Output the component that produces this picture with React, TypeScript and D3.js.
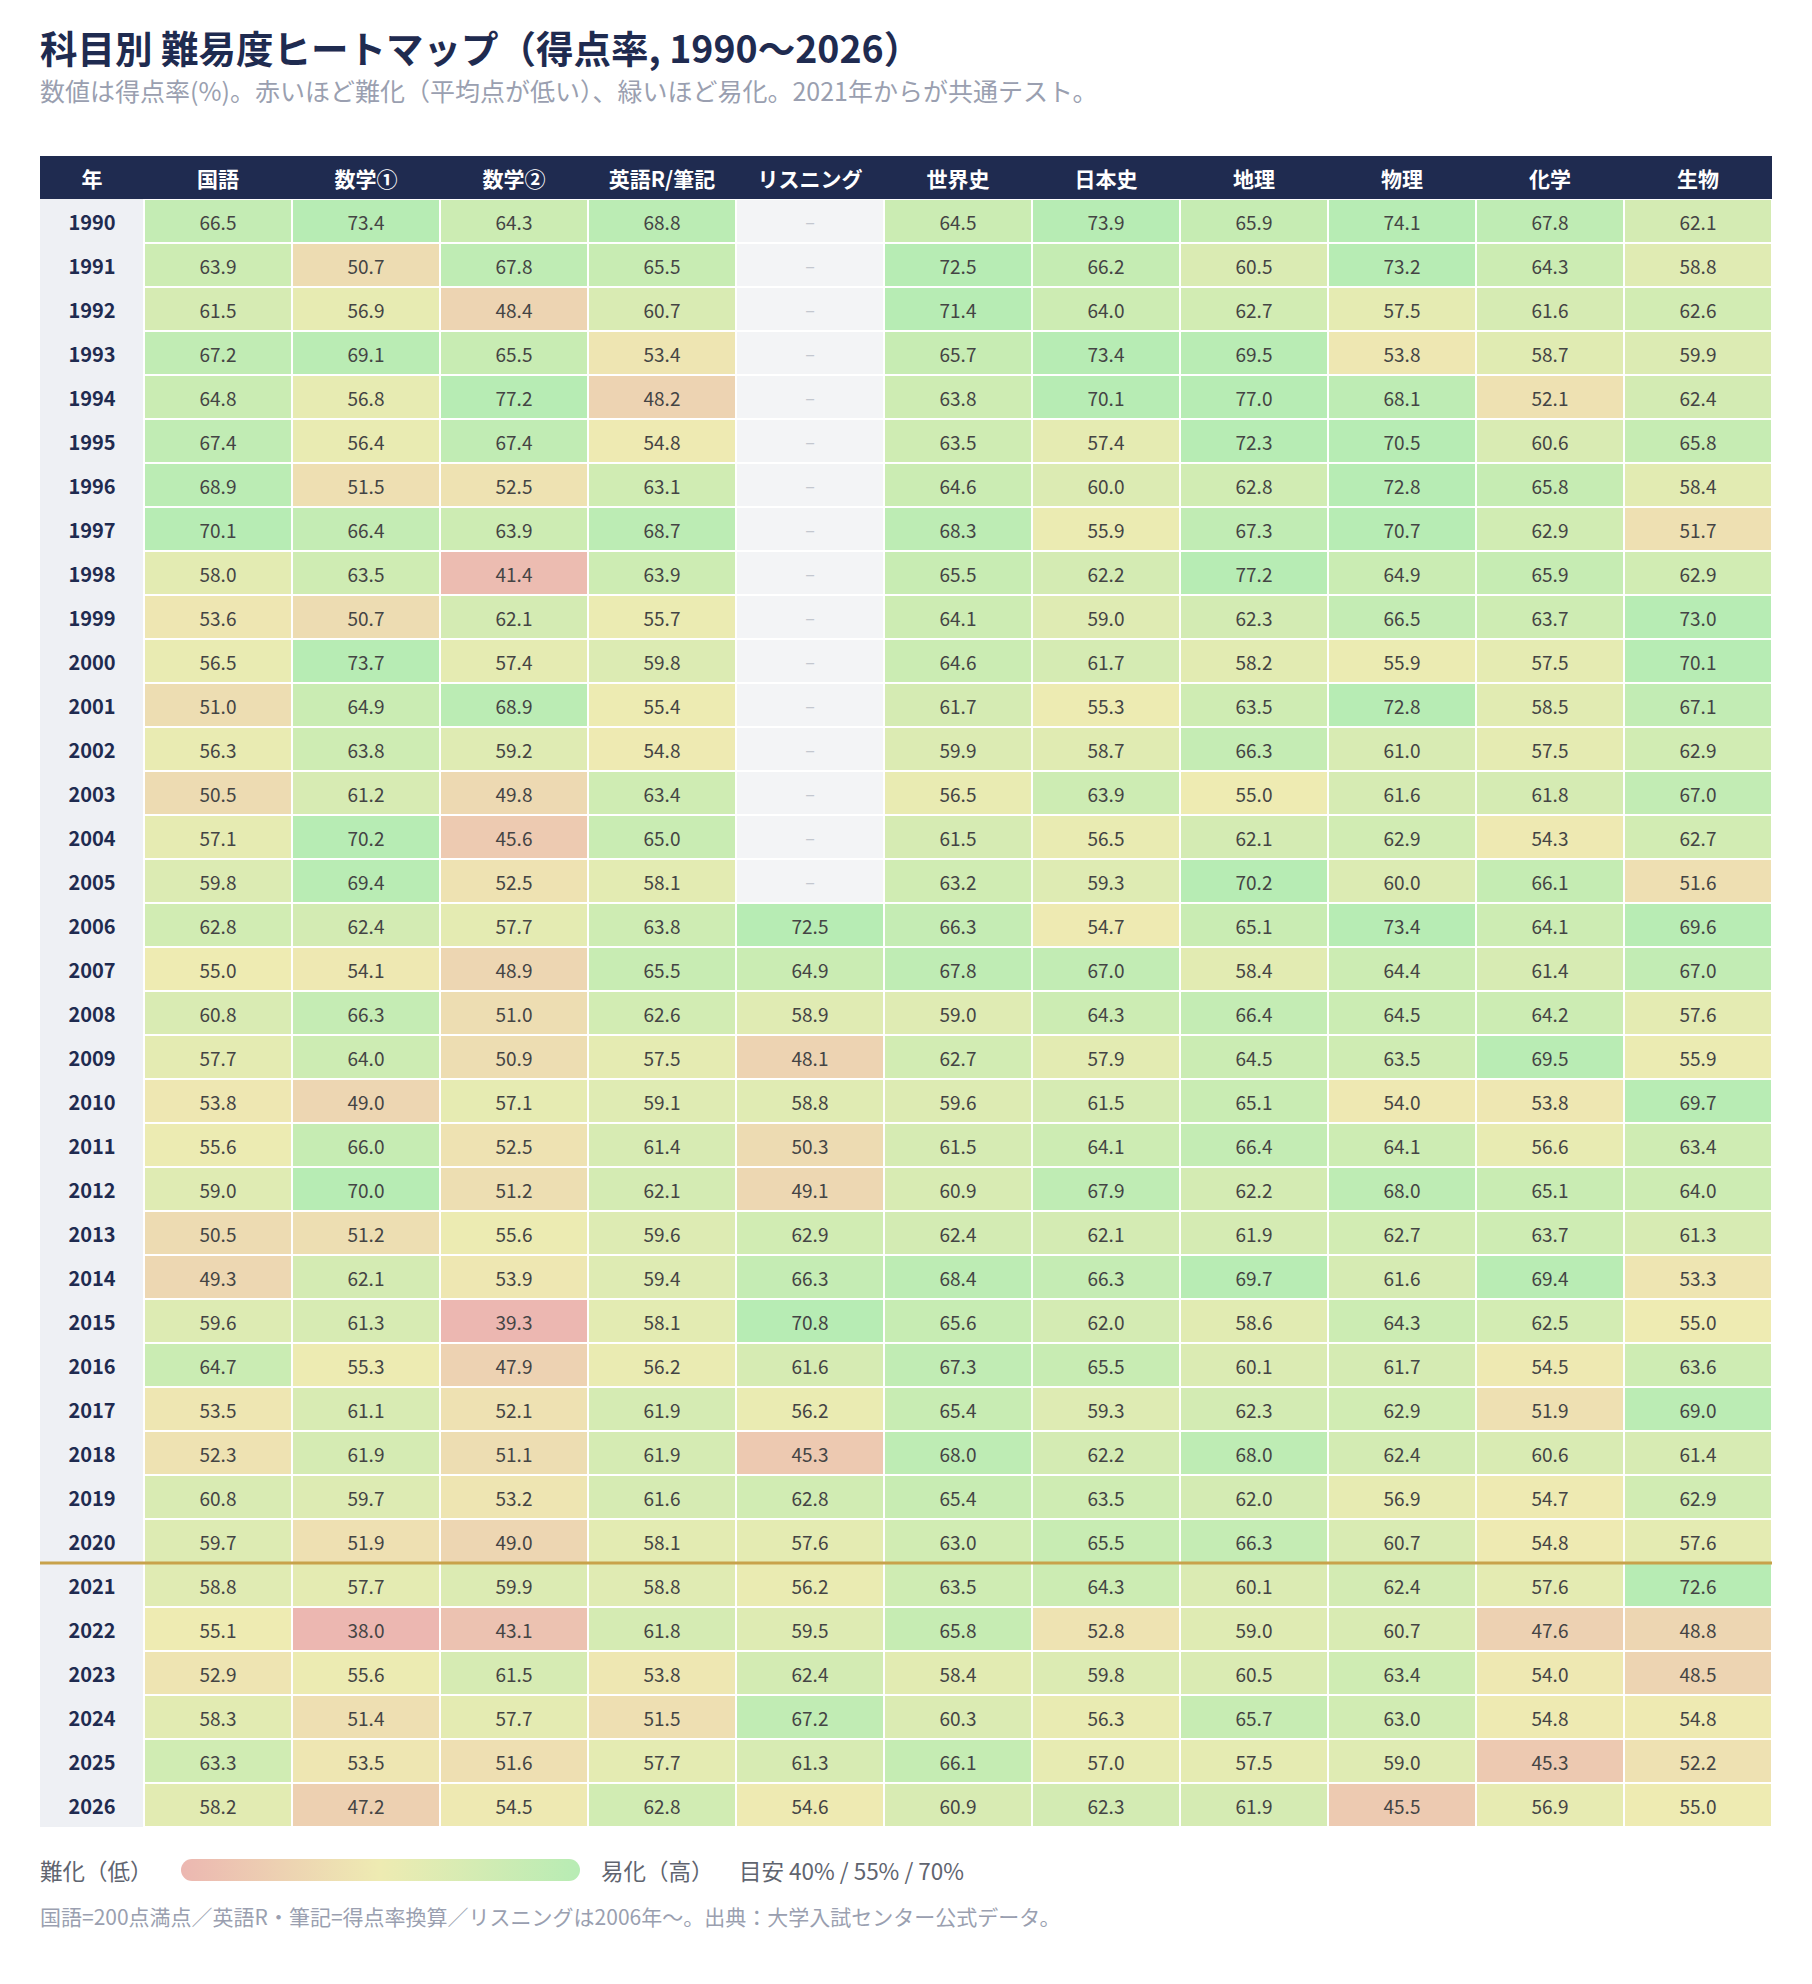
import React, { useEffect } from 'react';
import * as d3 from 'd3';

const subjects = ['国語', '数学①', '数学②', '英語R/筆記', 'リスニング', '世界史', '日本史', '地理', '物理', '化学', '生物'];

const years = [
  1990, 1991, 1992, 1993, 1994, 1995, 1996, 1997, 1998, 1999,
  2000, 2001, 2002, 2003, 2004, 2005, 2006, 2007, 2008, 2009,
  2010, 2011, 2012, 2013, 2014, 2015, 2016, 2017, 2018, 2019,
  2020, 2021, 2022, 2023, 2024, 2025, 2026,
];

const kokugo = [
  66.5, 63.9, 61.5, 67.2, 64.8, 67.4, 68.9, 70.1, 58.0, 53.6,
  56.5, 51.0, 56.3, 50.5, 57.1, 59.8, 62.8, 55.0, 60.8, 57.7,
  53.8, 55.6, 59.0, 50.5, 49.3, 59.6, 64.7, 53.5, 52.3, 60.8,
  59.7, 58.8, 55.1, 52.9, 58.3, 63.3, 58.2,
];
const math1 = [
  73.4, 50.7, 56.9, 69.1, 56.8, 56.4, 51.5, 66.4, 63.5, 50.7,
  73.7, 64.9, 63.8, 61.2, 70.2, 69.4, 62.4, 54.1, 66.3, 64.0,
  49.0, 66.0, 70.0, 51.2, 62.1, 61.3, 55.3, 61.1, 61.9, 59.7,
  51.9, 57.7, 38.0, 55.6, 51.4, 53.5, 47.2,
];
const math2 = [
  64.3, 67.8, 48.4, 65.5, 77.2, 67.4, 52.5, 63.9, 41.4, 62.1,
  57.4, 68.9, 59.2, 49.8, 45.6, 52.5, 57.7, 48.9, 51.0, 50.9,
  57.1, 52.5, 51.2, 55.6, 53.9, 39.3, 47.9, 52.1, 51.1, 53.2,
  49.0, 59.9, 43.1, 61.5, 57.7, 51.6, 54.5,
];
const english = [
  68.8, 65.5, 60.7, 53.4, 48.2, 54.8, 63.1, 68.7, 63.9, 55.7,
  59.8, 55.4, 54.8, 63.4, 65.0, 58.1, 63.8, 65.5, 62.6, 57.5,
  59.1, 61.4, 62.1, 59.6, 59.4, 58.1, 56.2, 61.9, 61.9, 61.6,
  58.1, 58.8, 61.8, 53.8, 51.5, 57.7, 62.8,
];
const listening = [
  null, null, null, null, null, null, null, null, null, null,
  null, null, null, null, null, null, 72.5, 64.9, 58.9, 48.1,
  58.8, 50.3, 49.1, 62.9, 66.3, 70.8, 61.6, 56.2, 45.3, 62.8,
  57.6, 56.2, 59.5, 62.4, 67.2, 61.3, 54.6,
];
const worldHistory = [
  64.5, 72.5, 71.4, 65.7, 63.8, 63.5, 64.6, 68.3, 65.5, 64.1,
  64.6, 61.7, 59.9, 56.5, 61.5, 63.2, 66.3, 67.8, 59.0, 62.7,
  59.6, 61.5, 60.9, 62.4, 68.4, 65.6, 67.3, 65.4, 68.0, 65.4,
  63.0, 63.5, 65.8, 58.4, 60.3, 66.1, 60.9,
];
const japanHistory = [
  73.9, 66.2, 64.0, 73.4, 70.1, 57.4, 60.0, 55.9, 62.2, 59.0,
  61.7, 55.3, 58.7, 63.9, 56.5, 59.3, 54.7, 67.0, 64.3, 57.9,
  61.5, 64.1, 67.9, 62.1, 66.3, 62.0, 65.5, 59.3, 62.2, 63.5,
  65.5, 64.3, 52.8, 59.8, 56.3, 57.0, 62.3,
];
const geography = [
  65.9, 60.5, 62.7, 69.5, 77.0, 72.3, 62.8, 67.3, 77.2, 62.3,
  58.2, 63.5, 66.3, 55.0, 62.1, 70.2, 65.1, 58.4, 66.4, 64.5,
  65.1, 66.4, 62.2, 61.9, 69.7, 58.6, 60.1, 62.3, 68.0, 62.0,
  66.3, 60.1, 59.0, 60.5, 65.7, 57.5, 61.9,
];
const physics = [
  74.1, 73.2, 57.5, 53.8, 68.1, 70.5, 72.8, 70.7, 64.9, 66.5,
  55.9, 72.8, 61.0, 61.6, 62.9, 60.0, 73.4, 64.4, 64.5, 63.5,
  54.0, 64.1, 68.0, 62.7, 61.6, 64.3, 61.7, 62.9, 62.4, 56.9,
  60.7, 62.4, 60.7, 63.4, 63.0, 59.0, 45.5,
];
const chemistry = [
  67.8, 64.3, 61.6, 58.7, 52.1, 60.6, 65.8, 62.9, 65.9, 63.7,
  57.5, 58.5, 57.5, 61.8, 54.3, 66.1, 64.1, 61.4, 64.2, 69.5,
  53.8, 56.6, 65.1, 63.7, 69.4, 62.5, 54.5, 51.9, 60.6, 54.7,
  54.8, 57.6, 47.6, 54.0, 54.8, 45.3, 56.9,
];
const biology = [
  62.1, 58.8, 62.6, 59.9, 62.4, 65.8, 58.4, 51.7, 62.9, 73.0,
  70.1, 67.1, 62.9, 67.0, 62.7, 51.6, 69.6, 67.0, 57.6, 55.9,
  69.7, 63.4, 64.0, 61.3, 53.3, 55.0, 63.6, 69.0, 61.4, 62.9,
  57.6, 72.6, 48.8, 48.5, 54.8, 52.2, 55.0,
];

const seriesValues: (number | null)[][] = [
  kokugo, math1, math2, english, listening, worldHistory, japanHistory, geography, physics, chemistry, biology,
];

const colorStops = [40, 55, 70];
const colorRange = ['#ecb7b1', '#eeebb2', '#b7ecb4'];
const commonTestStart = 2021;

const title = '科目別 難易度ヒートマップ（得点率, 1990〜2026）';
const subtitle = '数値は得点率(%)。赤いほど難化（平均点が低い）、緑いほど易化。2021年からが共通テスト。';
const legendLow = '難化（低）';
const legendHigh = '易化（高）';
const legendGuide = '目安 40% / 55% / 70%';
const footnote = '国語=200点満点／英語R・筆記=得点率換算／リスニングは2006年〜。出典：大学入試センター公式データ。';

const W = 1812;
const H = 1984;
const FONT = '"Noto Sans CJK JP", "Noto Sans", sans-serif';

export default function App() {
  useEffect(() => {
    document.body.style.margin = '0';
    document.body.style.overflow = 'hidden';
  }, []);

  const left = 40;
  const right = 1772;
  const yearColW = 104;
  const headerTop = 156;
  const headerH = 43;
  const rowH = 44;
  const bodyTop = headerTop + headerH;

  const x = d3.scaleBand<string>().domain(subjects).range([left + yearColW, right]).paddingInner(0);
  const y = d3
    .scaleBand<number>()
    .domain(years)
    .range([bodyTop, bodyTop + rowH * years.length])
    .paddingInner(0);
  const color = d3
    .scaleLinear<string>()
    .domain(colorStops)
    .range(colorRange)
    .interpolate(d3.interpolateRgb)
    .clamp(true);

  const bw = x.bandwidth();
  const bh = y.bandwidth();
  const bodyBottom = bodyTop + bh * years.length;
  const sepY = y(commonTestStart) as number;

  const legendY = 1870;
  const barX0 = 181;
  const barX1 = 580;
  const barH = 22;

  return (
    <svg
      width={W}
      height={H}
      viewBox={`0 0 ${W} ${H}`}
      style={{ position: 'absolute', left: 0, top: 0, display: 'block', background: '#fff' }}
      fontFamily={FONT}
    >
      <defs>
        <linearGradient id="legendGrad" x1="0" x2="1" y1="0" y2="0">
          {colorStops.map((v, i) => (
            <stop key={v} offset={`${(i / (colorStops.length - 1)) * 100}%`} stopColor={color(v)} />
          ))}
        </linearGradient>
      </defs>
      <rect x={0} y={0} width={W} height={H} fill="#ffffff" />

      <text x={left} y={46} dominantBaseline="central" fontSize={37.5} fontWeight={700} fill="#1f2b50">
        {title}
      </text>
      <text x={left} y={90} dominantBaseline="central" fontSize={25} fill="#9a9fb0">
        {subtitle}
      </text>

      {/* header */}
      <rect x={left} y={headerTop} width={right - left} height={headerH} fill="#1f2b50" />
      <text
        x={left + yearColW / 2}
        y={headerTop + headerH / 2}
        textAnchor="middle"
        dominantBaseline="central"
        fontSize={21}
        fontWeight={700}
        fill="#ffffff"
      >
        年
      </text>
      {subjects.map((s) => (
        <text
          key={s}
          x={(x(s) as number) + bw / 2}
          y={headerTop + headerH / 2}
          textAnchor="middle"
          dominantBaseline="central"
          fontSize={21}
          fontWeight={700}
          fill="#ffffff"
        >
          {s}
        </text>
      ))}

      {/* year column */}
      <rect x={left} y={bodyTop} width={yearColW - 1} height={bodyBottom - bodyTop} fill="#eef0f4" />
      {years.map((yr) => (
        <text
          key={yr}
          x={left + yearColW / 2}
          y={(y(yr) as number) + bh / 2}
          textAnchor="middle"
          dominantBaseline="central"
          fontSize={20}
          fontWeight={700}
          fill="#1f2b50"
        >
          {yr}
        </text>
      ))}

      {/* cells */}
      {subjects.map((s, si) =>
        years.map((yr, yi) => {
          const v = seriesValues[si][yi];
          const cx = x(s) as number;
          const cy = y(yr) as number;
          return (
            <g key={`${s}-${yr}`}>
              <rect
                x={cx + 1}
                y={cy + 1}
                width={bw - 2}
                height={bh - 2}
                fill={v == null ? '#f3f4f6' : color(v)}
              />
              <text
                x={cx + bw / 2}
                y={cy + bh / 2}
                textAnchor="middle"
                dominantBaseline="central"
                fontSize={v == null ? 18 : 19}
                fill={v == null ? '#c3c7cf' : '#444444'}
              >
                {v == null ? '–' : v.toFixed(1)}
              </text>
            </g>
          );
        })
      )}

      {/* common test separator */}
      <line x1={left} x2={right} y1={sepY} y2={sepY} stroke="#c8a24b" strokeWidth={3} />

      {/* legend */}
      <text x={left} y={legendY} dominantBaseline="central" fontSize={22.5} fill="#60646f">
        {legendLow}
      </text>
      <rect
        x={barX0}
        y={legendY - barH / 2}
        width={barX1 - barX0}
        height={barH}
        rx={barH / 2}
        fill="url(#legendGrad)"
      />
      <text x={601} y={legendY} dominantBaseline="central" fontSize={22.5} fill="#60646f">
        {legendHigh}
      </text>
      <text x={739} y={legendY} dominantBaseline="central" fontSize={22.5} fill="#60646f">
        {legendGuide}
      </text>

      <text x={left} y={1916} dominantBaseline="central" fontSize={21} fill="#9a9fb0">
        {footnote}
      </text>
    </svg>
  );
}
